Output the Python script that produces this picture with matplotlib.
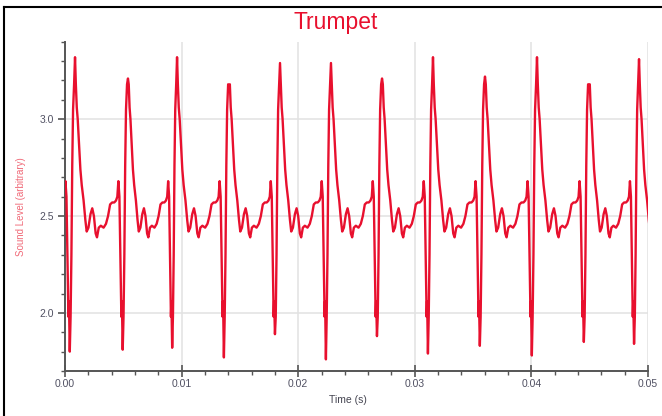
import matplotlib
matplotlib.use("Agg")
import matplotlib.pyplot as plt
from matplotlib.lines import Line2D
from matplotlib.ticker import MultipleLocator, FormatStrFormatter

plt.rcParams['font.family'] = ['Liberation Sans', 'DejaVu Sans']

# peak time (s), peak level and the trough just before each peak
peak_times = [0.00086, 0.00540, 0.00961, 0.01407, 0.01844, 0.02281,
              0.02719, 0.03156, 0.03602, 0.04048, 0.04494, 0.04923]
peak_levels = [3.32, 3.21, 3.32, 3.17, 3.29, 3.29, 3.21, 3.32, 3.22, 3.32, 3.18, 3.31]
trough_levels = [1.80, 1.81, 1.82, 1.77, 1.89, 1.76, 1.88, 1.79, 1.83, 1.78, 1.85, 1.84]
start_level = 2.63

# shape of one cycle after the peak: offset in px of a 51.3 px cycle, level
cycle_px = 51.3
shape_px = [0.8, 1.7, 2.6, 3.4, 4.3, 5.2, 6.5, 8.3, 10.0, 11.3, 13.0, 15.0, 16.7,
            18.3, 20.0, 21.3, 23.0, 25.0, 27.7, 30.0, 32.0, 34.0, 36.0, 38.0,
            39.7, 41.0, 42.0, 43.0, 44.0, 44.9, 45.4, 46.2, 47.0, 47.8, 48.6,
            49.4, 50.4]
shape_level = [3.18, 3.06, 3.00, 2.92, 2.82, 2.74, 2.66, 2.58, 2.48, 2.42, 2.44, 2.51, 2.54,
               2.50, 2.41, 2.39, 2.44, 2.45, 2.44, 2.46, 2.50, 2.56, 2.57, 2.57,
               2.58, 2.60, 2.68, 2.60, 2.28, 1.98, 2.06, None, 1.98, 2.30, 2.76,
               3.05, 3.18]


def cycle_points(tp, span, trough):
    ts, vs = [], []
    for px, lv in zip(shape_px, shape_level):
        ts.append(tp + span * px / cycle_px)
        vs.append(trough if lv is None else lv)
    return ts, vs


t = [0.0]
v = [start_level]
span0 = peak_times[1] - peak_times[0]
ts, vs = cycle_points(peak_times[0] - span0, span0, trough_levels[0])
for a, b in zip(ts, vs):
    if a > 0:
        t.append(a)
        v.append(b)
for k in range(len(peak_times)):
    tp = peak_times[k]
    t.append(tp)
    v.append(peak_levels[k])
    if k + 1 < len(peak_times):
        span = peak_times[k + 1] - tp
        trough = trough_levels[k + 1]
    else:
        span = tp - peak_times[k - 1]
        trough = trough_levels[0]
    ts, vs = cycle_points(tp, span, trough)
    t += ts
    v += vs

fig = plt.figure(figsize=(6.62, 4.16), dpi=100)
ax = fig.add_axes([65 / 662, 1 - 371 / 416, 583 / 662, 329.3 / 416])

ax.plot(t, v, color='#e8102e', lw=1.7, zorder=3)

ax.set_xlim(0, 0.05)
ax.set_ylim(1.7, 3.4)
ax.xaxis.set_major_locator(MultipleLocator(0.01))
ax.xaxis.set_minor_locator(MultipleLocator(0.002))
ax.yaxis.set_major_locator(MultipleLocator(0.5))
ax.yaxis.set_minor_locator(MultipleLocator(0.1))
ax.xaxis.set_major_formatter(FormatStrFormatter('%.2f'))
ax.yaxis.set_major_formatter(FormatStrFormatter('%.1f'))

ax.grid(True, which='major', color='#e2e2e2', lw=1.1, zorder=0)
for s in ['top', 'right']:
    ax.spines[s].set_visible(False)
for s in ['left', 'bottom']:
    ax.spines[s].set_color('#555555')
    ax.spines[s].set_linewidth(1.4)

ax.tick_params(axis='x', which='major', direction='inout', length=8, width=1.2,
               color='#555555', labelsize=7.5, labelcolor='#505062', pad=2)
ax.tick_params(axis='x', which='minor', direction='out', length=3, width=1,
               color='#555555')
ax.tick_params(axis='y', which='major', direction='out', length=5, width=1.2,
               color='#555555', labelsize=7.5, labelcolor='#505062', pad=3)
ax.tick_params(axis='y', which='minor', direction='out', length=3, width=1,
               color='#555555')

fig.text(336 / 662, 1 - 22 / 416, 'Trumpet', color='#e8102e', fontsize=16.5,
         ha='center', va='center')
fig.text(348 / 662, 1 - 400 / 416, 'Time (s)', color='#444450', fontsize=7.5,
         ha='center', va='center')
fig.text(21 / 662, 1 - 207 / 416, 'Sound Level (arbitrary)', color='#f06a78',
         fontsize=7, rotation=90, ha='center', va='center')

# outer frame (top and left edges)
fig.add_artist(Line2D([4 / 662, 1], [1 - 7 / 416, 1 - 7 / 416], color='black', lw=1.5))
fig.add_artist(Line2D([4 / 662, 4 / 662], [0, 1 - 7 / 416], color='black', lw=1.5))

fig.savefig('out.png', dpi=100)
